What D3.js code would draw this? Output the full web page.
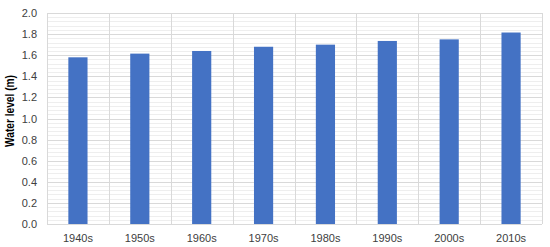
<!DOCTYPE html>
<html>
<head>
<meta charset="utf-8">
<script src="https://cdn.jsdelivr.net/npm/d3@7"></script>
<style>
  body { margin: 0; background: #fff; }
  svg text { font-family: "Liberation Sans", Arial, sans-serif; }
</style>
</head>
<body>
<svg id="chart" width="550" height="247"></svg>
<script>
const decades = ['1940s', '1950s', '1960s', '1970s', '1980s', '1990s', '2000s', '2010s'];
const waterLevel = [1.58, 1.615, 1.64, 1.68, 1.70, 1.735, 1.75, 1.815];
const yTicks = [0, 0.2, 0.4, 0.6, 0.8, 1.0, 1.2, 1.4, 1.6, 1.8, 2.0];
const yMinorTicks = d3.range(0, 2.0001, 0.04);

const margin = { top: 13, right: 8, bottom: 23, left: 47 };
const width = 550 - margin.left - margin.right;
const height = 247 - margin.top - margin.bottom;

const svg = d3.select('#chart');
const g = svg.append('g').attr('transform', `translate(${margin.left}, ${margin.top})`);

const x = d3.scaleBand().domain(decades).range([0, width]).paddingInner(0).paddingOuter(0);
const y = d3.scaleLinear().domain([0, 2.0]).range([height, 0]);

// minor horizontal grid
g.selectAll('line.minor')
  .data(yMinorTicks)
  .enter()
  .append('line')
  .attr('x1', 0).attr('x2', width)
  .attr('y1', (d) => Math.round(y(d)) + 0.5)
  .attr('y2', (d) => Math.round(y(d)) + 0.5)
  .attr('stroke', '#eeeeee')
  .attr('stroke-width', 1);

// major horizontal grid
g.selectAll('line.major')
  .data(yTicks)
  .enter()
  .append('line')
  .attr('x1', 0).attr('x2', width)
  .attr('y1', (d) => Math.round(y(d)) + 0.5)
  .attr('y2', (d) => Math.round(y(d)) + 0.5)
  .attr('stroke', '#d9d9d9')
  .attr('stroke-width', 1);

// vertical grid at category boundaries
const bounds = decades.map((d) => x(d)).concat([width]);
g.selectAll('line.vgrid')
  .data(bounds)
  .enter()
  .append('line')
  .attr('x1', (d) => Math.round(d) + 0.5)
  .attr('x2', (d) => Math.round(d) + 0.5)
  .attr('y1', 0).attr('y2', height)
  .attr('stroke', '#d9d9d9')
  .attr('stroke-width', 1);

// bars
const barW = x.bandwidth() * 0.31;
g.selectAll('rect.bar')
  .data(decades)
  .enter()
  .append('rect')
  .attr('x', (d) => x(d) + (x.bandwidth() - barW) / 2)
  .attr('y', (d, i) => y(waterLevel[i]))
  .attr('width', barW)
  .attr('height', (d, i) => y(0) - y(waterLevel[i]))
  .attr('fill', '#4472c4');

// y axis labels
const yAxis = g.append('g')
  .call(d3.axisLeft(y).tickValues(yTicks).tickFormat(d3.format('.1f')).tickSize(0).tickPadding(10));
yAxis.select('.domain').remove();
yAxis.selectAll('text').attr('fill', '#404040').style('font-size', '11px');

// x axis labels
const xAxis = g.append('g')
  .attr('transform', `translate(0, ${height})`)
  .call(d3.axisBottom(x).tickSize(0).tickPadding(10));
xAxis.select('.domain').remove();
xAxis.selectAll('text').attr('fill', '#404040').style('font-size', '11px');

// y label
svg.append('text')
  .attr('transform', 'translate(11, 111) rotate(-90)')
  .attr('text-anchor', 'middle')
  .attr('dominant-baseline', 'middle')
  .attr('textLength', 72)
  .attr('lengthAdjust', 'spacingAndGlyphs')
  .style('font-family', '"Liberation Sans Narrow", "Liberation Sans", sans-serif')
  .style('font-size', '12px')
  .style('font-weight', 'bold')
  .attr('fill', '#000')
  .text('Water level (m)');
</script>
</body>
</html>
